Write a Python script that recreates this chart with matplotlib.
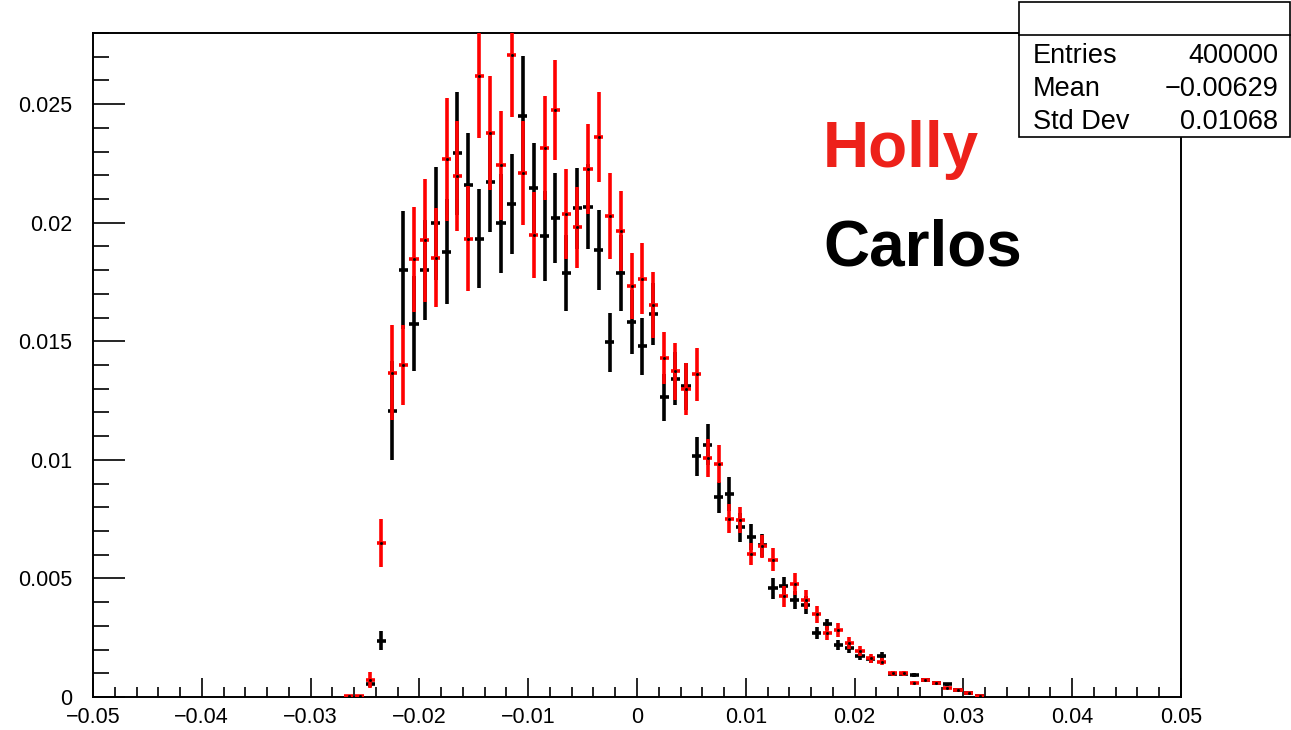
import numpy as np
import matplotlib
matplotlib.use("Agg")
import matplotlib.pyplot as plt
from matplotlib.ticker import MultipleLocator, FuncFormatter
from matplotlib.patches import Rectangle

# bin centres (bin width 0.001)
bins = np.round(np.arange(-0.0265, 0.0316, 0.001), 4)

# Holly (red) contents and errors
holly = [0.00005, 0.00005, 0.00072, 0.0065, 0.01368, 0.0140, 0.01845, 0.01926, 0.01853, 0.02268,
         0.02197, 0.01933, 0.02618, 0.02379, 0.02242, 0.02706, 0.02211, 0.01948, 0.02315, 0.02475,
         0.02035, 0.0198, 0.02227, 0.02362, 0.02028, 0.01965, 0.01733, 0.01764, 0.01654, 0.0143,
         0.01374, 0.0130, 0.0136, 0.01008, 0.00983, 0.00752, 0.00747, 0.00603, 0.00635, 0.00579,
         0.00424, 0.00476, 0.0041, 0.00348, 0.0027, 0.00282, 0.00229, 0.00195, 0.00163, 0.00149,
         0.0010, 0.0010, 0.0006, 0.00072, 0.0006, 0.00039, 0.0003, 0.00016, 0.00006]
holly_err = [0.00003, 0.00003, 0.00035, 0.0010, 0.0020, 0.0017, 0.0022, 0.0026, 0.0021, 0.0026,
             0.0023, 0.0022, 0.0026, 0.0024, 0.0023, 0.0026, 0.0022, 0.0018, 0.0022, 0.0021,
             0.0019, 0.0017, 0.0019, 0.0019, 0.0018, 0.0017, 0.0014, 0.0015, 0.0014, 0.0011,
             0.0012, 0.0011, 0.0011, 0.0008, 0.0008, 0.0006, 0.00056, 0.00045, 0.0005, 0.00049,
             0.00045, 0.00047, 0.0004, 0.00035, 0.0003, 0.0003, 0.00025, 0.0002, 0.00018, 0.00015,
             0.0001, 0.0001, 0.00008, 0.00008, 0.00007, 0.00005, 0.00004, 0.00003, 0.00002]

# Carlos (black) contents and errors
carlos = [np.nan, np.nan, 0.00055, 0.00238, 0.01208, 0.0180, 0.01575, 0.0180, 0.01997, 0.01878,
          0.02293, 0.02157, 0.01933, 0.02172, 0.01997, 0.02078, 0.02451, 0.02147, 0.01944, 0.02021,
          0.01789, 0.02061, 0.02068, 0.01885, 0.01496, 0.01789, 0.01582, 0.01479, 0.01615, 0.01264,
          0.01343, 0.0131, 0.01015, 0.01064, 0.00842, 0.00856, 0.00715, 0.00674, 0.00639, 0.00459,
          0.00468, 0.0041, 0.0039, 0.00271, 0.00306, 0.00219, 0.00206, 0.00175, 0.0016, 0.00173,
          0.00098, 0.00097, 0.00093, 0.00072, 0.0006, 0.00054, 0.0003, 0.00015, 0.00005]
carlos_err = [0, 0, 0.00012, 0.0004, 0.0021, 0.0025, 0.0020, 0.0021, 0.0024, 0.0022,
              0.0026, 0.0022, 0.0021, 0.0021, 0.0021, 0.0021, 0.0025, 0.0019, 0.0019, 0.0019,
              0.0016, 0.0017, 0.0018, 0.0017, 0.00125, 0.0016, 0.00135, 0.0012, 0.0013, 0.001,
              0.0011, 0.001, 0.00083, 0.00087, 0.00065, 0.0007, 0.0006, 0.00055, 0.0005, 0.00044,
              0.0004, 0.00038, 0.00038, 0.00025, 0.00025, 0.0002, 0.0002, 0.00018, 0.00015, 0.00015,
              0.0001, 0.0001, 0.0001, 0.00008, 0.00007, 0.00006, 0.00004, 0.00003, 0.00002]

stats_labels = ["Entries", "Mean", "Std Dev"]
stats_values = ["400000", "\u22120.00629", "0.01068"]

plt.rcParams['font.family'] = ['Liberation Sans', 'DejaVu Sans']

W, H = 1291, 730
fig = plt.figure(figsize=(W / 100, H / 100), dpi=100)
ax = fig.add_axes([93 / W, 1 - 697 / H, (1181 - 93) / W, (697 - 33) / H])

lw = 2.6
ax.errorbar(bins, carlos, yerr=carlos_err, xerr=0.00042, fmt='none',
            ecolor='black', elinewidth=lw, capsize=0, zorder=2)
ax.errorbar(bins, holly, yerr=holly_err, xerr=0.00042, fmt='none',
            ecolor='red', elinewidth=lw, capsize=0, zorder=3)
ax.plot(bins, holly, ls='none', marker='s', ms=1.0, color='black', zorder=4)

ax.set_xlim(-0.05, 0.05)
ax.set_ylim(0, 0.028)

ax.xaxis.set_major_locator(MultipleLocator(0.01))
ax.xaxis.set_minor_locator(MultipleLocator(0.002))
ax.yaxis.set_major_locator(MultipleLocator(0.005))
ax.yaxis.set_minor_locator(MultipleLocator(0.001))


def fmt(v, pos):
    v = round(v, 6)
    if v == 0:
        return "0"
    return ("%g" % v).replace("-", "\u2212")


ax.xaxis.set_major_formatter(FuncFormatter(fmt))
ax.yaxis.set_major_formatter(FuncFormatter(fmt))

ax.tick_params(axis='x', which='major', direction='in', length=14, width=1.2,
               labelsize=15.5, pad=7, top=False)
ax.tick_params(axis='x', which='minor', direction='in', length=7, width=1.2, top=False)
ax.tick_params(axis='y', which='major', direction='in', length=23, width=1.2,
               labelsize=15.5, pad=15, right=False)
ax.tick_params(axis='y', which='minor', direction='in', length=11.5, width=1.2, right=False)
for s in ax.spines.values():
    s.set_linewidth(1.4)

# labels
fig.text(823 / W, 1 - 167 / H, "Holly", color=(0.93, 0.13, 0.1), fontsize=46,
         fontweight='bold', ha='left', va='baseline')
fig.text(823 / W, 1 - 266 / H, "Carlos", color='black', fontsize=46,
         fontweight='bold', ha='left', va='baseline')

# stats box
box = Rectangle((1019 / W, 1 - 137 / H), (1290 - 1019) / W, (137 - 2) / H,
                transform=fig.transFigure, facecolor='white', edgecolor='black',
                lw=1.2, zorder=10)
fig.add_artist(box)
fig.add_artist(plt.Line2D([1019 / W, 1290 / W], [1 - 35 / H, 1 - 35 / H],
                          transform=fig.transFigure, color='black', lw=1.2, zorder=11))
for i, (lab, val) in enumerate(zip(stats_labels, stats_values)):
    y = 1 - (56 + 33 * i) / H
    fig.text(1033 / W, y, lab, fontsize=19.5, ha='left', va='center', zorder=12)
    fig.text(1278 / W, y, val, fontsize=19.5, ha='right', va='center', zorder=12)

fig.savefig("out.png", dpi=100)
